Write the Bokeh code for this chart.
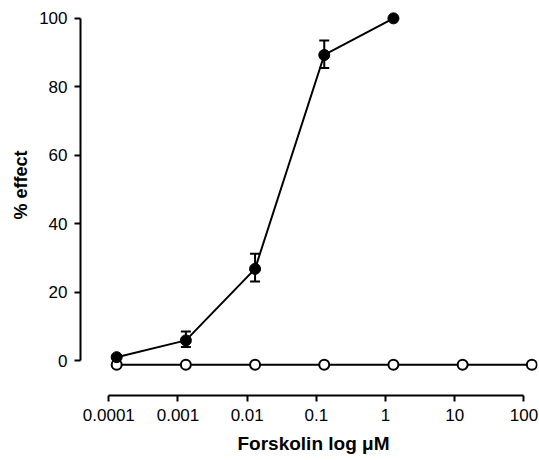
from bokeh.plotting import figure
from bokeh.models import ColumnDataSource, FixedTicker, Whisker, TeeHead, Range1d, Title
from bokeh.embed import file_html
from bokeh.resources import INLINE

# Data
conc_filled = [1.3e-4, 1.3e-3, 1.3e-2, 0.13, 1.3]
effect_filled = [1.0, 5.9, 26.8, 89.3, 100.0]
err_upper = [1.0, 8.5, 31.2, 93.5, 100.0]
err_lower = [1.0, 4.0, 23.1, 85.5, 100.0]

conc_open = [1.3e-4, 1.3e-3, 1.3e-2, 0.13, 1.3, 13.0, 130.0]
effect_open = [-1.2, -1.2, -1.2, -1.2, -1.2, -1.2, -1.2]

x_ticks = [1e-4, 1e-3, 1e-2, 1e-1, 1, 10, 100]
x_tick_labels = ["0.0001", "0.001", "0.01", "0.1", "1", "10", "100"]
y_ticks = [0, 20, 40, 60, 80, 100]
x_title = "Forskolin log μM"
y_title = "% effect"

FONT = "Liberation Sans"

p = figure(width=539, height=460, x_axis_type="log", output_backend="svg",
           toolbar_location=None,
           x_range=Range1d(3.9e-5, 157), y_range=Range1d(-10.2, 102.3),
           min_border_left=80, min_border_right=2, min_border_top=10,
           min_border_bottom=64)
p.outline_line_color = None
p.xgrid.visible = False
p.ygrid.visible = False
p.background_fill_color = "white"
p.border_fill_color = "white"

# open series
p.line(conc_open, effect_open, line_color="black", line_width=2)
p.scatter(conc_open, effect_open, size=10, fill_color="white",
          line_color="black", line_width=2)

# filled series with error bars
src = ColumnDataSource(dict(x=conc_filled, y=effect_filled,
                            upper=err_upper, lower=err_lower))
p.add_layout(Whisker(source=src, base="x", upper="upper", lower="lower",
                     line_color="black", line_width=2,
                     upper_head=TeeHead(size=10, line_color="black", line_width=2),
                     lower_head=TeeHead(size=10, line_color="black", line_width=2)))
p.line("x", "y", source=src, line_color="black", line_width=2)
p.scatter("x", "y", source=src, size=11, fill_color="black",
          line_color="black")

# axes
xa = p.xaxis[0]
xa.ticker = FixedTicker(ticks=x_ticks, minor_ticks=[])
xa.major_label_overrides = {t: l for t, l in zip(x_ticks, x_tick_labels)}
xa.bounds = (1e-4, 100)

ya = p.yaxis[0]
ya.ticker = FixedTicker(ticks=y_ticks, minor_ticks=[])
ya.bounds = (0, 100)

for ax in (xa, ya):
    ax.axis_line_width = 2
    ax.axis_line_color = "black"
    ax.major_tick_line_width = 2
    ax.major_tick_line_color = "black"
    ax.major_tick_out = 6
    ax.major_tick_in = 0
    ax.minor_tick_out = 0
    ax.minor_tick_in = 0
    ax.major_label_text_font = FONT
    ax.major_label_text_font_size = "17px"
    ax.major_label_text_color = "black"

xa.major_label_standoff = 7
ya.major_label_standoff = 7

# axis titles as panel titles, offset to sit centred on the axis lines
p.add_layout(Title(text=x_title, align="left", offset=157, standoff=14,
                   vertical_align="bottom",
                   text_font=FONT, text_font_size="19px", text_font_style="bold",
                   text_color="black"), "below")
p.add_layout(Title(text=y_title, align="right", offset=140, standoff=12,
                   vertical_align="bottom",
                   text_font=FONT, text_font_size="18px", text_font_style="bold",
                   text_color="black"), "left")

open("out.html", "w").write(file_html(p, INLINE))
